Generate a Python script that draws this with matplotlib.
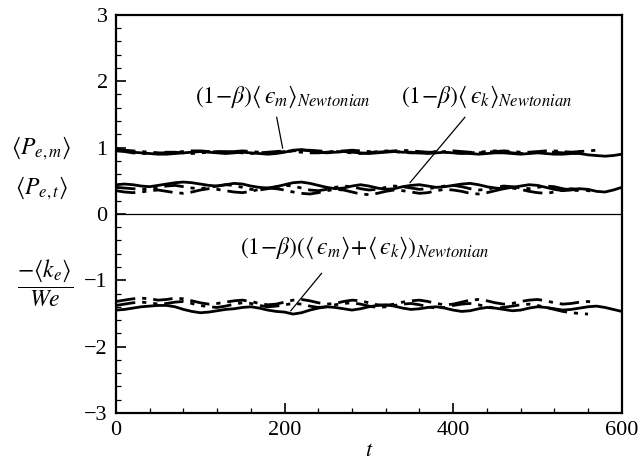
import numpy as np
import matplotlib
matplotlib.use("Agg")
import matplotlib.pyplot as plt
from matplotlib.ticker import MultipleLocator

plt.rcParams["font.family"] = ["Liberation Serif", "DejaVu Serif"]
plt.rcParams["mathtext.fontset"] = "stix"
plt.rcParams["axes.unicode_minus"] = True

# time grid of the sampled series (step 10)
t_full = np.arange(0, 601, 10)

# <P_e,m> group (upper)
pem_solid = [0.99, 0.95, 0.93, 0.92, 0.91, 0.90, 0.90, 0.91, 0.92, 0.93,
             0.94, 0.93, 0.92, 0.91, 0.92, 0.93, 0.92, 0.91, 0.90, 0.91,
             0.93, 0.96, 0.97, 0.95, 0.93, 0.92, 0.93, 0.94, 0.93, 0.92,
             0.91, 0.92, 0.93, 0.94, 0.93, 0.93, 0.92, 0.91, 0.92, 0.93,
             0.92, 0.92, 0.91, 0.90, 0.91, 0.92, 0.92, 0.91, 0.90, 0.91,
             0.92, 0.91, 0.90, 0.90, 0.91, 0.91, 0.89, 0.88, 0.87, 0.88,
             0.90]
pem_dashdot = [0.97, 0.96, 0.95, 0.94, 0.93, 0.92, 0.92, 0.93, 0.94, 0.95,
               0.95, 0.94, 0.93, 0.93, 0.94, 0.95, 0.94, 0.93, 0.92, 0.93,
               0.94, 0.95, 0.96, 0.96, 0.95, 0.94, 0.94, 0.95, 0.96, 0.95,
               0.94, 0.93, 0.94, 0.95, 0.96, 0.95, 0.94, 0.93, 0.93, 0.94,
               0.95, 0.94, 0.93, 0.92, 0.93, 0.94, 0.95, 0.94, 0.93, 0.93,
               0.94, 0.95, 0.95, 0.94, 0.93, 0.94, 0.95, 0.96]
pem_dashdotdot = [0.95, 0.94, 0.92, 0.91, 0.91, 0.92, 0.93, 0.93, 0.92, 0.91,
                  0.92, 0.93, 0.94, 0.94, 0.93, 0.92, 0.91, 0.92, 0.93, 0.94,
                  0.95, 0.94, 0.93, 0.92, 0.92, 0.93, 0.94, 0.93, 0.92, 0.91,
                  0.92, 0.94, 0.95, 0.94, 0.93, 0.92, 0.92, 0.93, 0.94, 0.93,
                  0.92, 0.91, 0.92, 0.93, 0.94, 0.95, 0.94, 0.92, 0.91, 0.92,
                  0.93, 0.94, 0.93, 0.92, 0.93, 0.94, 0.95]

# <P_e,t> group (middle)
pet_solid = [0.44, 0.45, 0.44, 0.42, 0.41, 0.43, 0.45, 0.47, 0.48, 0.47,
             0.45, 0.43, 0.42, 0.44, 0.46, 0.45, 0.42, 0.40, 0.39, 0.41,
             0.44, 0.47, 0.48, 0.46, 0.43, 0.40, 0.38, 0.39, 0.42, 0.44,
             0.42, 0.39, 0.37, 0.38, 0.41, 0.43, 0.44, 0.42, 0.40, 0.41,
             0.43, 0.45, 0.46, 0.44, 0.41, 0.39, 0.38, 0.40, 0.42, 0.44,
             0.43, 0.40, 0.37, 0.35, 0.36, 0.38, 0.37, 0.34, 0.33, 0.36,
             0.40]
pet_dashdot = [0.35, 0.33, 0.32, 0.33, 0.35, 0.36, 0.34, 0.32, 0.31, 0.33,
               0.36, 0.38, 0.37, 0.35, 0.33, 0.32, 0.34, 0.37, 0.39, 0.38,
               0.36, 0.33, 0.31, 0.30, 0.32, 0.35, 0.37, 0.36, 0.33, 0.30,
               0.29, 0.31, 0.34, 0.36, 0.35, 0.33, 0.31, 0.32, 0.35, 0.37,
               0.36, 0.34, 0.31, 0.30, 0.32, 0.35, 0.38, 0.39, 0.37, 0.34,
               0.32, 0.31, 0.33, 0.36, 0.38, 0.37, 0.35, 0.34]
pet_dashdotdot = [0.40, 0.39, 0.38, 0.37, 0.38, 0.40, 0.42, 0.43, 0.41, 0.39,
                  0.38, 0.40, 0.42, 0.44, 0.43, 0.40, 0.37, 0.36, 0.38, 0.41,
                  0.43, 0.42, 0.39, 0.36, 0.35, 0.37, 0.40, 0.42, 0.41, 0.38,
                  0.36, 0.37, 0.40, 0.42, 0.41, 0.39, 0.37, 0.38, 0.40, 0.42,
                  0.43, 0.41, 0.38, 0.36, 0.37, 0.40, 0.42, 0.41, 0.39, 0.38,
                  0.40, 0.42, 0.41, 0.38, 0.36, 0.35, 0.37]

# -<k_e>/We group (lower)
ke_solid = [-1.45, -1.44, -1.42, -1.40, -1.39, -1.38, -1.38, -1.40, -1.44, -1.47,
            -1.49, -1.48, -1.46, -1.44, -1.43, -1.41, -1.40, -1.42, -1.45, -1.47,
            -1.48, -1.51, -1.49, -1.45, -1.42, -1.40, -1.41, -1.43, -1.45, -1.43,
            -1.40, -1.38, -1.37, -1.39, -1.42, -1.44, -1.43, -1.41, -1.40, -1.42,
            -1.45, -1.47, -1.46, -1.43, -1.41, -1.42, -1.44, -1.46, -1.45, -1.42,
            -1.40, -1.41, -1.43, -1.45, -1.44, -1.42, -1.40, -1.39, -1.41, -1.44,
            -1.47]
ke_dashdot = [-1.32, -1.30, -1.28, -1.27, -1.28, -1.30, -1.29, -1.27, -1.28, -1.31,
              -1.34, -1.36, -1.35, -1.33, -1.31, -1.30, -1.32, -1.35, -1.37, -1.36,
              -1.33, -1.30, -1.29, -1.31, -1.34, -1.36, -1.35, -1.32, -1.30, -1.31,
              -1.34, -1.37, -1.38, -1.36, -1.33, -1.31, -1.30, -1.32, -1.35, -1.37,
              -1.36, -1.33, -1.30, -1.29, -1.31, -1.34, -1.36, -1.35, -1.32, -1.30,
              -1.29, -1.31, -1.34, -1.36, -1.35, -1.33, -1.32, -1.34]
ke_dashdotdot = [-1.38, -1.36, -1.34, -1.33, -1.34, -1.36, -1.35, -1.33, -1.32, -1.35,
                 -1.38, -1.40, -1.41, -1.39, -1.36, -1.34, -1.35, -1.38, -1.40, -1.39,
                 -1.37, -1.35, -1.36, -1.39, -1.41, -1.40, -1.37, -1.35, -1.34, -1.36,
                 -1.39, -1.41, -1.40, -1.38, -1.36, -1.35, -1.37, -1.40, -1.42, -1.41,
                 -1.38, -1.36, -1.35, -1.37, -1.40, -1.42, -1.41, -1.39, -1.37, -1.36,
                 -1.38, -1.41, -1.44, -1.47, -1.49, -1.50, -1.51]

x_ticks = [0, 200, 400, 600]
y_ticks = [-3, -2, -1, 0, 1, 2, 3]

SOLID = "-"
DASHDOT = (0, (7, 2.5, 1.5, 2.5))
DASHDOTDOT = (0, (7, 2.5, 1.5, 2.5, 1.5, 2.5))

fig = plt.figure(figsize=(6.41, 4.65), dpi=100)
ax = fig.add_axes([0.181, 0.112, 0.789, 0.856])

series = [
    (pem_solid, SOLID), (pem_dashdot, DASHDOT), (pem_dashdotdot, DASHDOTDOT),
    (pet_solid, SOLID), (pet_dashdot, DASHDOT), (pet_dashdotdot, DASHDOTDOT),
    (ke_solid, SOLID), (ke_dashdot, DASHDOT), (ke_dashdotdot, DASHDOTDOT),
]
for vals, ls in series:
    ax.plot(t_full[:len(vals)], vals, color="black", lw=2.0, ls=ls)

ax.axhline(0, color="black", lw=0.9)

ax.set_xlim(0, 600)
ax.set_ylim(-3, 3)
ax.set_xticks(x_ticks)
ax.set_yticks(y_ticks)
ax.xaxis.set_minor_locator(MultipleLocator(40))
ax.yaxis.set_minor_locator(MultipleLocator(0.2))
ax.tick_params(which="major", direction="in", length=7, width=1.2,
               labelsize=16, top=False, right=False, pad=6)
ax.tick_params(which="minor", direction="in", length=3.5, width=0.9,
               top=False, right=False)
for sp in ax.spines.values():
    sp.set_linewidth(1.6)

ax.set_xlabel(r"$t$", fontsize=16, labelpad=1)

# left-hand quantity labels
fig.text(0.065, 0.682, r"$\langle P_{e,m}\rangle$", fontsize=17,
         ha="center", va="center")
fig.text(0.065, 0.596, r"$\langle P_{e,t}\rangle$", fontsize=17,
         ha="center", va="center")
fig.text(0.07, 0.39, r"$\dfrac{-\langle k_e\rangle}{We}$", fontsize=17,
         ha="center", va="center")

# curve labels (lunate epsilon) and their leader lines
label_fs = 17
eps = "\u03f5"
ax.text(198, 1.76, r"$(1\!-\!\beta)\langle\," + eps + r"_m\rangle_{Newtonian}$",
        fontsize=label_fs, ha="center", va="center")
ax.text(440, 1.76, r"$(1\!-\!\beta)\langle\," + eps + r"_k\rangle_{Newtonian}$",
        fontsize=label_fs, ha="center", va="center")
ax.text(295, -0.51,
        r"$(1\!-\!\beta)(\langle\," + eps + r"_m\rangle\!+\!\langle\," + eps
        + r"_k\rangle)_{Newtonian}$",
        fontsize=label_fs, ha="center", va="center")

leader = dict(arrowstyle="-", lw=0.9, color="black", shrinkA=0, shrinkB=0)
ax.annotate("", xy=(197.7, 0.99), xytext=(190.6, 1.458), arrowprops=leader)
ax.annotate("", xy=(348.7, 0.47), xytext=(414.0, 1.458), arrowprops=leader)
ax.annotate("", xy=(207.2, -1.462), xytext=(244.0, -0.894), arrowprops=leader)

fig.savefig("out.png", dpi=100)
